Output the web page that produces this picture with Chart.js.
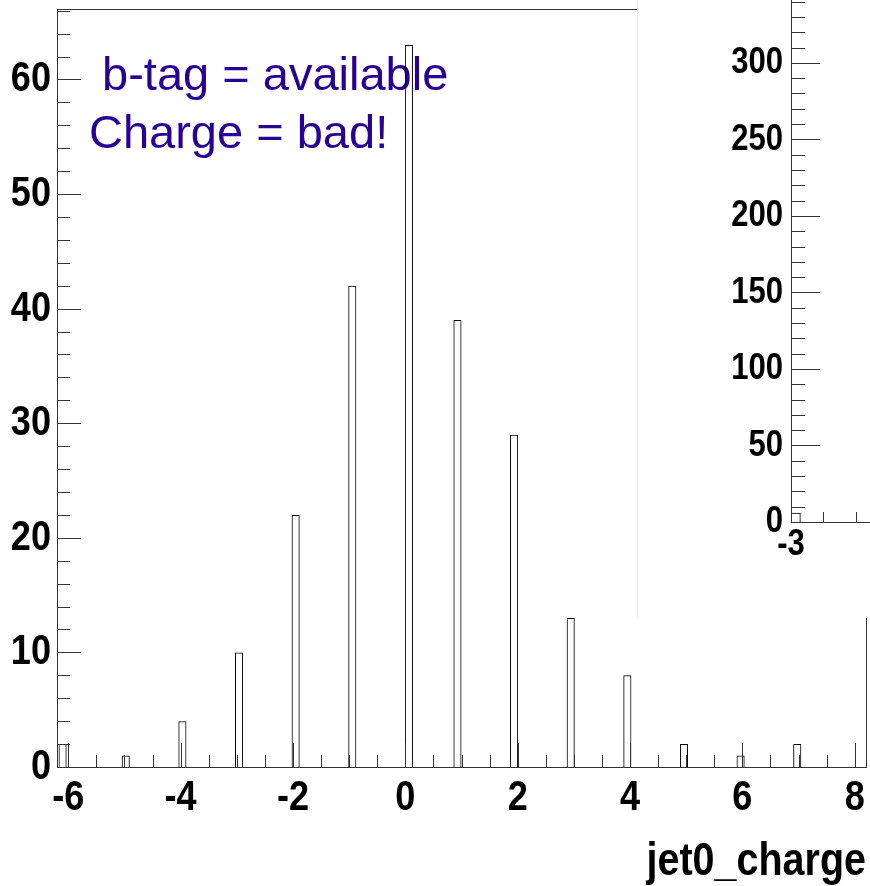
<!DOCTYPE html>
<html>
<head>
<meta charset="utf-8">
<title>jet0_charge</title>
<script src="https://cdn.jsdelivr.net/npm/chart.js@4.4.0/dist/chart.umd.min.js"></script>
<style>
  html, body { margin: 0; padding: 0; background: #fff; overflow: hidden; }
  body { width: 870px; height: 886px; position: relative; }
  #main { position: absolute; left: 0; top: 0; }
  .inset { position: absolute; left: 637px; top: 0; width: 233px; height: 618px;
           background: #fff; overflow: hidden; border-left: 1px solid #f0f0f0; }
  #inset { position: absolute; left: 0; top: -40px; }
</style>
</head>
<body>
<canvas id="main" width="870" height="886"></canvas>
<div class="inset"><canvas id="inset" width="1150" height="640"></canvas></div>
<script>
// main histogram: jet0_charge, 100 bins from -6.2 to 8.2
const binCenters = [-6.1, -4.976, -3.968, -2.96, -1.952, -0.944, 0.064, 0.928, 1.936, 2.944, 3.952, 4.96, 5.968, 6.976];
const counts = [2, 1, 4, 10, 22, 42, 63, 39, 29, 13, 8, 2, 1, 2];
const binWidth = 0.144;
const xTicks = [-6, -4, -2, 0, 2, 4, 6, 8];
const yTicks = [0, 10, 20, 30, 40, 50, 60];
const noteLines = [' b-tag = available', 'Charge = bad!'];

// inset histogram (mostly hidden past the right edge)
const insetCenters = [-2.97];
const insetCounts = [6];
const insetBinWidth = 0.06;
const insetXTicks = [-3, -2, -1, 0, 1, 2, 3];
const insetYTicks = [0, 50, 100, 150, 200, 250, 300, 350];

const bold = '"Liberation Sans", Arial, sans-serif';
const squeeze = 0.84;   // the axis font in the picture is a narrow Helvetica

// draw the axis text narrower, anchored where Chart.js puts it
function narrowText(canvas) {
    const ctx = canvas.getContext('2d');
    const fill = ctx.fillText.bind(ctx);
    ctx.fillText = function(text, x, y, maxWidth) {
        if (!this.font.includes('bold')) return fill(text, x, y, maxWidth);
        this.save();
        this.translate(x, y);
        this.scale(squeeze, 1);
        fill(text, 0, 0);
        this.restore();
    };
    return canvas;
}

function minGap(arr) {
    const s = [...arr].sort((a, b) => a - b);
    let m = Infinity;
    for (let i = 1; i < s.length; i++) m = Math.min(m, s[i] - s[i - 1]);
    return m;
}
// bar width as a share of the spacing Chart.js uses for its ruler
function barShare(centers, ticks, width) {
    return width / Math.min(minGap(centers), minGap(ticks));
}

function noPad(s) {
    s.paddingLeft = 0; s.paddingRight = 0; s.paddingTop = 0; s.paddingBottom = 0;
}

// ROOT-like frame with ticks pointing into the plot
const rootFrame = {
    id: 'rootFrame',
    afterDraw(chart, args, o) {
        const {ctx, chartArea: a, scales} = chart;
        ctx.save();
        ctx.strokeStyle = '#333';
        ctx.lineWidth = 1;
        ctx.beginPath();
        const nx = Math.round((o.xTo - o.xFrom) / o.xStep);
        for (let i = 0; i <= nx; i++) {
            const v = o.xFrom + i * o.xStep;
            const px = Math.round(scales.x.getPixelForValue(v)) + 0.5;
            const major = Math.abs(v / o.xMajor - Math.round(v / o.xMajor)) < 1e-6;
            ctx.moveTo(px, a.bottom);
            ctx.lineTo(px, a.bottom - (major ? o.xLong : o.xShort));
        }
        const ny = Math.round((o.yTo - o.yFrom) / o.yStep);
        for (let i = 0; i <= ny; i++) {
            const v = o.yFrom + i * o.yStep;
            const py = Math.round(scales.y.getPixelForValue(v)) + 0.5;
            const major = Math.abs(v / o.yMajor - Math.round(v / o.yMajor)) < 1e-6;
            ctx.moveTo(a.left, py);
            ctx.lineTo(a.left + (major ? o.yLong : o.yShort), py);
        }
        ctx.stroke();
        ctx.strokeRect(a.left + 0.5, a.top + 0.5, a.right - a.left, a.bottom - a.top);
        ctx.restore();
    }
};

// the text box in the upper left
const note = {
    id: 'note',
    beforeDatasetsDraw(chart, args, o) {
        if (!o.lines) return;
        const {ctx, chartArea: a} = chart;
        ctx.save();
        ctx.fillStyle = o.color;
        ctx.font = o.font;
        ctx.textBaseline = 'alphabetic';
        o.lines.forEach((t, i) => ctx.fillText(t, a.left + o.x, a.top + o.y[i]));
        ctx.restore();
    }
};

Chart.register(rootFrame, note);

new Chart(narrowText(document.getElementById('main')), {
    type: 'bar',
    data: {
        datasets: [{
            data: binCenters.map((x, i) => ({x: x, y: counts[i]})),
            backgroundColor: 'rgba(0,0,0,0)',
            borderColor: '#000',
            borderWidth: 1,
            barPercentage: barShare(binCenters, xTicks, binWidth),
            categoryPercentage: 1
        }]
    },
    options: {
        responsive: false,
        animation: false,
        layout: { padding: { left: 0, top: 9, right: 4, bottom: 0 } },
        plugins: {
            legend: { display: false },
            tooltip: { enabled: false },
            rootFrame: { xFrom: -6, xTo: 8, xStep: 0.5, xMajor: 2, xLong: 24, xShort: 12,
                         yFrom: 0, yTo: 66, yStep: 2, yMajor: 10, yLong: 24, yShort: 13 },
            note: { lines: noteLines, x: 32, y: [81, 139], color: '#280096',
                    font: '47px "Liberation Sans", Arial, sans-serif' }
        },
        scales: {
            x: {
                type: 'linear',
                offset: false,
                min: -6.2,
                max: 8.2,
                grid: { display: false, drawTicks: false },
                border: { display: false },
                afterBuildTicks: s => { s.ticks = xTicks.map(v => ({value: v})); },
                afterFit: s => { s.height = 119; noPad(s); },
                ticks: { color: '#000', padding: 5, maxRotation: 0, autoSkip: false,
                         font: { family: bold, weight: 'bold', size: 43, lineHeight: 1.2 } },
                title: { display: true, text: 'jet0_charge', align: 'end', color: '#000',
                         padding: 0, font: { family: bold, weight: 'bold', size: 47, lineHeight: 1 } }
            },
            y: {
                min: 0,
                max: 66.15,
                grid: { display: false, drawTicks: false },
                border: { display: false },
                afterBuildTicks: s => { s.ticks = yTicks.map(v => ({value: v})); },
                afterFit: s => { s.width = 57; noPad(s); },
                ticks: { color: '#000', padding: 6,
                         font: { family: bold, weight: 'bold', size: 43 } }
            }
        }
    }
});

new Chart(narrowText(document.getElementById('inset')), {
    type: 'bar',
    data: {
        datasets: [{
            data: insetCenters.map((x, i) => ({x: x, y: insetCounts[i]})),
            backgroundColor: 'rgba(0,0,0,0)',
            borderColor: '#000',
            borderWidth: 1,
            barPercentage: barShare(insetCenters, insetXTicks, insetBinWidth),
            categoryPercentage: 1
        }]
    },
    options: {
        responsive: false,
        animation: false,
        layout: { padding: { left: 0, top: 11, right: 25, bottom: 0 } },
        plugins: {
            legend: { display: false },
            tooltip: { enabled: false },
            rootFrame: { xFrom: -3, xTo: 3, xStep: 0.2, xMajor: 1, xLong: 20, xShort: 10,
                         yFrom: 0, yTo: 360, yStep: 10, yMajor: 50, yLong: 29, yShort: 14 },
            note: { lines: null }
        },
        scales: {
            x: {
                type: 'linear',
                offset: false,
                min: -3,
                max: 3,
                grid: { display: false, drawTicks: false },
                border: { display: false },
                afterBuildTicks: s => { s.ticks = insetXTicks.map(v => ({value: v})); },
                afterFit: s => { s.height = 78; noPad(s); },
                ticks: { color: '#000', padding: 1, maxRotation: 0, autoSkip: false,
                         font: { family: bold, weight: 'bold', size: 37, lineHeight: 1.2 } }
            },
            y: {
                min: 0,
                max: 360,
                grid: { display: false, drawTicks: false },
                border: { display: false },
                afterBuildTicks: s => { s.ticks = insetYTicks.map(v => ({value: v})); },
                afterFit: s => { s.width = 153; noPad(s); },
                ticks: { color: '#000', padding: 8,
                         font: { family: bold, weight: 'bold', size: 37 } }
            }
        }
    }
});
</script>
</body>
</html>
